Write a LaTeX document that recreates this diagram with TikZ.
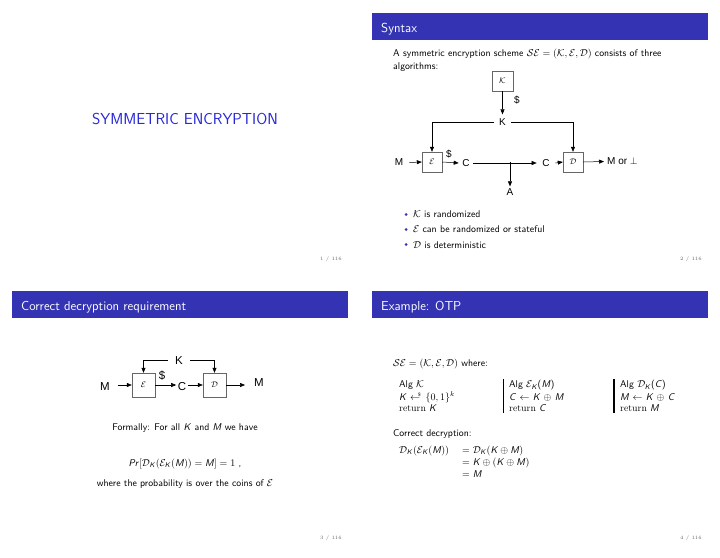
\documentclass[tikz,border=0pt]{standalone}
\usepackage{amsmath,amssymb}
\usepackage{fontspec}
\newfontfamily\dfont{Liberation Sans}
\usetikzlibrary{arrows.meta}
\definecolor{struct}{RGB}{51,51,179}
\definecolor{titleblue}{RGB}{40,40,215}
\newcommand{\sv}[1]{\textsf{\itshape #1}}
\newcommand{\randarrow}{\mathrel{\leftarrow\llap{\raisebox{0.85ex}{$\scriptscriptstyle\$$}\hspace{0.2em}}}}
\begin{document}
\begin{tikzpicture}[x=1pt,y=-1pt,
  hdr/.style={fill=struct,draw=none},
  ttl/.style={anchor=base west,text=white,font=\sffamily\fontsize{13}{15}\selectfont,inner sep=0},
  body/.style={anchor=base west,font=\sffamily\fontsize{9.8}{11}\selectfont,inner sep=0},
  cbody/.style={anchor=base,font=\sffamily\fontsize{9.8}{11}\selectfont,inner sep=0},
  pg/.style={anchor=east,font=\fontsize{5}{6}\selectfont,text=black!60,inner sep=0},
  blk/.style={draw=black!60,fill=white,inner sep=0,font=\fontsize{8}{9}\selectfont},
  lbl/.style={font=\dfont\fontsize{10}{11}\selectfont,inner sep=3pt},
  lblb/.style={font=\dfont\fontsize{11.5}{12}\selectfont,inner sep=3pt},
  arr/.style={-{Triangle[length=5pt,width=4pt]},line width=0.5pt},
  ln/.style={line width=0.5pt}]
\useasboundingbox[fill=white] (0,0) rectangle (720,557);

% ---------- Slide 1 ----------
\node[anchor=base,text=titleblue,font=\sffamily\fontsize{15.9}{18}\selectfont,inner sep=0] (s1t) at (185,124.3) {SYMMETRIC ENCRYPTION};
\node[pg] (p1) at (342,259) {1 / 116};

% ---------- Slide 2 ----------
\fill[hdr] (372,13.3) rectangle (708,40);
\node[ttl] (s2t) at (381,32) {Syntax};
\node[body] (s2l1) at (393,56.7) {A symmetric encryption scheme $\mathcal{SE}=(\mathcal{K},\mathcal{E},\mathcal{D})$ consists of three};
\node[body] (s2l2) at (393,69) {algorithms:};

\node[blk,minimum width=21pt,minimum height=20pt] (kb) at (502.5,81) {$\mathcal{K}$};
\node[lbl,inner xsep=5pt,inner ysep=4pt] (kl) at (502.5,122) {K};
\draw[arr] (kb.south) -- (kl.north);
\node[lbl,inner sep=0] (dol1) at (517,100) {\$};
\node[blk,minimum width=20pt,minimum height=20pt] (eb) at (432,162) {$\mathcal{E}$};
\node[blk,minimum width=20pt,minimum height=20pt] (db) at (573,162) {$\mathcal{D}$};
\draw[arr] (kl.west) -| (eb.north);
\draw[arr] (kl.east) -| (db.north);
\node[lbl,inner xsep=6pt] (m1) at (399,162.5) {M};
\draw[arr] (m1.east) -- (eb.west);
\node[lbl,inner sep=0] (dol2) at (449,154) {\$};
\node[lbl,inner xsep=3.5pt] (c1) at (466,163) {C};
\draw[arr] (eb.east) -- (c1.west);
\node[lbl,inner xsep=5.5pt] (c2) at (546,163) {C};
\draw[arr] (c1.east) -- (c2.west);
\draw[arr] (c2.east) -- (db.west);
\node[lbl,anchor=west,inner xsep=3pt] (mor) at (604,161.5) {M or $\perp$};
\draw[arr] (db.east) -- (mor.west);
\coordinate (sp) at (510,162);
\node[lbl,inner ysep=2pt] (al) at (510,192) {A};
\draw[arr] (sp) -- (al.north);

\fill[struct] (406,214.5) circle (1.5);
\fill[struct] (406,229.5) circle (1.5);
\fill[struct] (406,244.5) circle (1.5);
\node[body] (b1) at (413,217.5) {$\mathcal{K}$ is randomized};
\node[body] (b2) at (413,232.8) {$\mathcal{E}$ can be randomized or stateful};
\node[body] (b3) at (413,248) {$\mathcal{D}$ is deterministic};
\node[pg] (p2) at (702,259) {2 / 116};

% ---------- Slide 3 ----------
\fill[hdr] (12,291) rectangle (348,318);
\node[ttl] (s3t) at (21,310.7) {Correct decryption requirement};
\node[lblb,inner xsep=7pt,inner ysep=1pt] (kl3) at (179,360.5) {K};
\node[blk,minimum width=23pt,minimum height=24pt] (eb3) at (143.5,385) {$\mathcal{E}$};
\node[blk,minimum width=23pt,minimum height=24pt] (db3) at (214.5,385) {$\mathcal{D}$};
\draw[arr] (kl3.west) -| (eb3.north);
\draw[arr] (kl3.east) -| (db3.north);
\node[lblb,inner xsep=8pt] (m3) at (105,387) {M};
\draw[arr] (m3.east |- eb3.west) -- (eb3.west);
\node[lblb,inner sep=0] (dol3) at (162,376) {\$};
\node[lblb,inner xsep=1.5pt] (c3) at (182,387) {C};
\draw[arr] (eb3.east) -- (c3.west |- eb3.east);
\draw[arr] (c3.east |- db3.west) -- (db3.west);
\node[lblb,inner xsep=9pt] (mo3) at (259,383) {M};
\draw[arr] (db3.east) -- (mo3.west |- db3.east);

\node[cbody] (f1) at (185,430) {Formally: For all \sv{K} and \sv{M} we have};
\node[cbody] (f2) at (185,466) {\sv{Pr}$[\mathcal{D}_{\text{\sv{K}}}(\mathcal{E}_{\text{\sv{K}}}(\text{\sv{M}}))=\text{\sv{M}}]=1$ ,};
\node[cbody] (f3) at (185,486.7) {where the probability is over the coins of $\mathcal{E}$};
\node[pg] (p3) at (342,538) {3 / 116};

% ---------- Slide 4 ----------
\fill[hdr] (372,291) rectangle (708,318);
\node[ttl] (s4t) at (381,310.7) {Example: OTP};
\node[body] (o1) at (393,366) {$\mathcal{SE}=(\mathcal{K},\mathcal{E},\mathcal{D})$ where:};

\node[body] (a1) at (399,387.7) {Alg $\mathcal{K}$};
\node[body] (a2) at (399,400) {\sv{K} $\randarrow\{0,1\}^{k}$};
\node[body] (a3) at (399,411.7) {\textrm{return} \sv{K}};

\draw[line width=0.9pt] (503,379) -- (503,413);
\node[body] (e1) at (509,387.7) {Alg $\mathcal{E}_{\text{\sv{K}}}$(\sv{M})};
\node[body] (e2) at (509,400) {\sv{C} $\leftarrow$ \sv{K} $\oplus$ \sv{M}};
\node[body] (e3) at (509,411.7) {\textrm{return} \sv{C}};

\draw[line width=1.5pt] (614,379) -- (614,413);
\node[body] (d1) at (620,387.7) {Alg $\mathcal{D}_{\text{\sv{K}}}$(\sv{C})};
\node[body] (d2) at (620,400) {\sv{M} $\leftarrow$ \sv{K} $\oplus$ \sv{C}};
\node[body] (d3) at (620,411.7) {\textrm{return} \sv{M}};

\node[body] (cd) at (393,436) {Correct decryption:};
\node[body] (q1) at (399,453) {$\mathcal{D}_{\text{\sv{K}}}(\mathcal{E}_{\text{\sv{K}}}(\text{\sv{M}}))$};
\node[body] (q2) at (462,453) {$=\mathcal{D}_{\text{\sv{K}}}(\text{\sv{K}}\oplus\text{\sv{M}})$};
\node[body] (q3) at (462,465.3) {$=\text{\sv{K}}\oplus(\text{\sv{K}}\oplus\text{\sv{M}})$};
\node[body] (q4) at (462,477.5) {$=\text{\sv{M}}$};
\node[pg] (p4) at (702,538) {4 / 116};
\end{tikzpicture}
\end{document}
